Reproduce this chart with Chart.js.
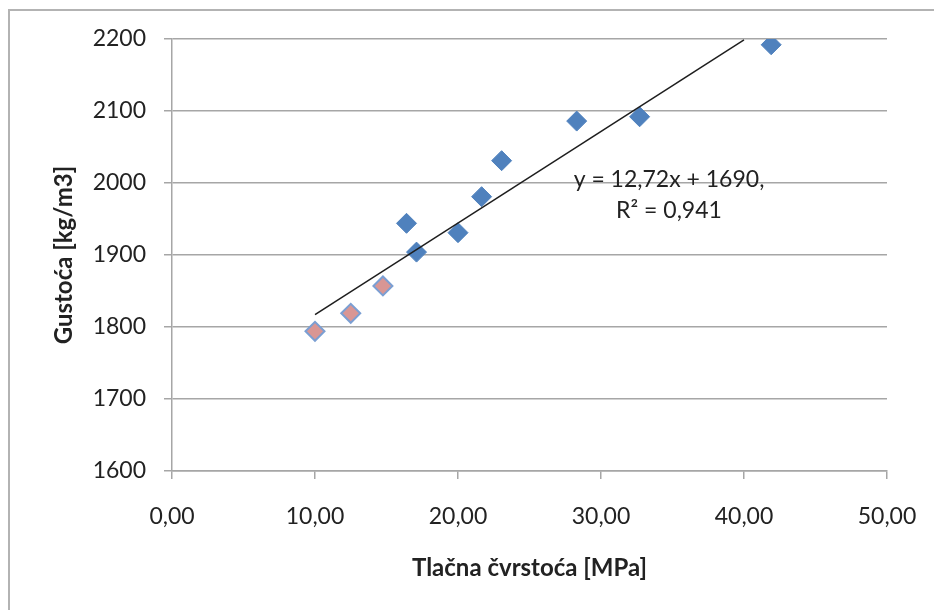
<!DOCTYPE html>
<html>
<head>
<meta charset="utf-8">
<script src="https://cdn.jsdelivr.net/npm/chart.js@4.4.0/dist/chart.umd.min.js"></script>
<style>
  html, body { margin: 0; padding: 0; background: #ffffff; overflow: hidden; }
  #frame { position: absolute; left: 8px; top: 9px; width: 2000px; height: 2000px;
           border-left: 2px solid #b3b3b3; border-top: 2px solid #b3b3b3; }
  #c { position: absolute; left: 0; top: 0; }
</style>
</head>
<body>
<div id="frame"></div>
<canvas id="c" width="934" height="610"></canvas>
<script>
// ---- data ----
const blueX = [16.4, 17.1, 20.0, 21.65, 23.05, 28.3, 32.7, 41.9];
const blueY = [1944, 1904, 1931, 1981, 2031, 2086, 2092, 2192];
const pinkX = [10.0, 12.5, 14.75];
const pinkY = [1794, 1819, 1857];
const trendX = [10, 40];
const trendSlope = 12.72;
const trendIntercept = 1690;
const xTickValues = [0, 10, 20, 30, 40, 50];
const yTickValues = [1600, 1700, 1800, 1900, 2000, 2100, 2200];
const xTitle = 'Tlačna čvrstoća [MPa]';
const yTitle = 'Gustoća [kg/m3]';
const eqLines = ['y = 12,72x + 1690,', 'R² = 0,941'];

const toPts = (xs, ys) => xs.map((x, i) => ({ x: x, y: ys[i] }));
const trendPts = trendX.map(x => ({ x: x, y: trendSlope * x + trendIntercept }));

const GRID = '#a6a6a6';
const FONT = 'Lato, "Open Sans", sans-serif';

const eqPlugin = {
  id: 'eq',
  afterDatasetsDraw(chart) {
    const { ctx, chartArea } = chart;
    ctx.save();
    ctx.font = '23px ' + FONT;
    ctx.fillStyle = '#222';
    ctx.textAlign = 'center';
    ctx.textBaseline = 'middle';
    const cx = chartArea.left + 497;
    ctx.fillText(eqLines[0], cx, chartArea.top + 141);
    ctx.fillText(eqLines[1], cx, chartArea.top + 172);
    ctx.restore();
  }
};

new Chart(document.getElementById('c'), {
  type: 'scatter',
  data: {
    datasets: [
      {
        type: 'line',
        data: trendPts,
        borderColor: '#1e1e1e',
        borderWidth: 1.5,
        pointRadius: 0,
        fill: false,
        order: 0
      },
      {
        data: toPts(blueX, blueY),
        pointStyle: 'rectRot',
        pointRadius: 10,
        pointHoverRadius: 10,
        backgroundColor: '#4f81bd',
        borderColor: '#4f81bd',
        borderWidth: 1,
        order: 1
      },
      {
        data: toPts(pinkX, pinkY),
        pointStyle: 'rectRot',
        pointRadius: 9.5,
        pointHoverRadius: 9.5,
        backgroundColor: '#d99694',
        borderColor: '#7b9fd3',
        borderWidth: 2,
        order: 1
      }
    ]
  },
  options: {
    responsive: false,
    animation: false,
    devicePixelRatio: 1,
    layout: { padding: { left: 44, right: 47, top: 39, bottom: 0 } },
    plugins: { legend: { display: false }, tooltip: { enabled: false } },
    scales: {
      x: {
        type: 'linear',
        min: 0, max: 50,
        afterBuildTicks: s => { s.ticks = xTickValues.map(v => ({ value: v })); },
        afterFit: s => { s.height = 139; s.paddingLeft = 0; s.paddingRight = 0; },
        ticks: {
          padding: 24,
          color: '#222',
          font: { family: FONT, size: 23 },
          callback: v => v.toFixed(2).replace('.', ',')
        },
        grid: { drawOnChartArea: false, drawTicks: true, tickLength: 8, color: GRID, lineWidth: 1.5 },
        border: { display: true, color: GRID, width: 1.5 },
        title: {
          display: true, text: xTitle, color: '#222',
          font: { family: FONT, size: 24, weight: 'bold' },
          padding: { top: 0, bottom: 27 }
        }
      },
      y: {
        type: 'linear',
        min: 1600, max: 2200,
        afterBuildTicks: s => { s.ticks = yTickValues.map(v => ({ value: v })); },
        afterFit: s => { s.width = 128; },
        ticks: {
          padding: 18,
          color: '#222',
          font: { family: FONT, size: 23 },
          callback: v => String(v)
        },
        grid: { drawTicks: true, tickLength: 8, color: GRID, lineWidth: 1.5 },
        border: { display: true, color: GRID, width: 1.5 },
        title: {
          display: true, text: yTitle, color: '#222',
          font: { family: FONT, size: 24, weight: 'bold' },
          padding: { top: 6, bottom: 0 }
        }
      }
    }
  },
  plugins: [eqPlugin]
});
</script>
</body>
</html>
